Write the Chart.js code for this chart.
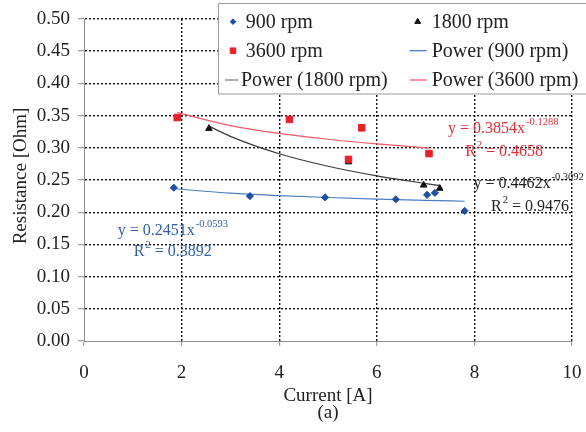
<!DOCTYPE html>
<html><head><meta charset="utf-8">
<script src="https://cdn.jsdelivr.net/npm/chart.js@4/dist/chart.umd.min.js"></script>
<style>html,body{margin:0;padding:0;background:#fff;}#wrap{position:relative;width:586px;height:432px;}</style>
</head><body><div id="wrap"><canvas id="c" width="586" height="432"></canvas></div>
<script>
// ---- data ----
const current900 = [1.84, 3.40, 4.94, 6.39, 7.03, 7.19, 7.80];
const resist900  = [0.238, 0.225, 0.223, 0.220, 0.227, 0.230, 0.202];
const current1800 = [2.56, 5.42, 6.96, 7.29];
const resist1800  = [0.330, 0.278, 0.242, 0.237];
const current3600 = [1.91, 4.21, 5.69, 5.42, 7.07];
const resist3600  = [0.347, 0.344, 0.331, 0.282, 0.291];
// power trend lines
const trendX900  = [1.84, 3, 4, 5, 6, 7, 7.8];
const trendY900  = [0.2364, 0.2296, 0.2258, 0.2228, 0.2204, 0.2184, 0.2170];
const trendX1800 = [2.56, 3, 4, 5, 6, 7, 7.29];
const trendY1800 = [0.3337, 0.3177, 0.2907, 0.2713, 0.2564, 0.2445, 0.2414];
const trendX3600 = [1.91, 3, 4, 5, 6, 7.07];
const trendY3600 = [0.3546, 0.3345, 0.3224, 0.3133, 0.3060, 0.2996];
const xTicks = [0, 2, 4, 6, 8, 10];
const yTicks = [0, 0.05, 0.10, 0.15, 0.20, 0.25, 0.30, 0.35, 0.40, 0.45, 0.50];
const seriesNames = ['900 rpm', '1800 rpm', '3600 rpm', 'Power (900 rpm)', 'Power (1800 rpm)', 'Power (3600 rpm)'];
const equations = [
  {x: 0.69, y: 0.171, color: '#2f5fa6', base: 'y = 0.2451x', sup: '-0.0593', tail: ''},
  {x: 1.02, y: 0.138, color: '#2f5fa6', base: 'R', sup: '2', tail: ' = 0.3892'},
  {x: 7.46, y: 0.330, color: '#e2303a', base: 'y = 0.3854x', sup: '-0.1288', tail: ''},
  {x: 7.81, y: 0.294, color: '#e2303a', base: 'R', sup: '2', tail: ' = 0.4658'},
  {x: 7.98, y: 0.2437, color: '#222', base: 'y = 0.4462x', sup: '-0.3092', tail: ''},
  {x: 8.34, y: 0.2084, color: '#222', base: 'R', sup: '2', tail: ' = 0.9476'}
];

const pts = (xs, ys) => xs.map((x, i) => ({x, y: ys[i]}));
const FONT = "'Liberation Serif', 'Times New Roman', serif";
const TXT = '#222';

const datasets = [
  {label: seriesNames[0], data: pts(current900, resist900), showLine: false, pointStyle: 'rectRot', pointRadius: 3.6, backgroundColor: '#1f4fa3', borderColor: '#1f4fa3', borderWidth: 1, order: 1},
  {label: seriesNames[1], data: pts(current1800, resist1800), showLine: false, pointStyle: 'triangle', pointRadius: 3.8, backgroundColor: '#111', borderColor: '#111', borderWidth: 1, order: 1},
  {label: seriesNames[2], data: pts(current3600, resist3600), showLine: false, pointStyle: 'rect', pointRadius: 4.6, backgroundColor: '#e8202a', borderColor: '#e8202a', borderWidth: 1, order: 0},
  {label: seriesNames[3], data: pts(trendX900, trendY900), showLine: true, pointRadius: 0, borderColor: '#4a7ec0', borderWidth: 1.2, cubicInterpolationMode: 'monotone', order: 2},
  {label: seriesNames[4], data: pts(trendX1800, trendY1800), showLine: true, pointRadius: 0, borderColor: '#3a3a3a', borderWidth: 1.2, cubicInterpolationMode: 'monotone', order: 2},
  {label: seriesNames[5], data: pts(trendX3600, trendY3600), showLine: true, pointRadius: 0, borderColor: '#ef5a66', borderWidth: 1.2, cubicInterpolationMode: 'monotone', order: 2}
];

const extras = {
  id: 'extras',
  afterDraw(chart) {
    const ctx = chart.ctx;
    const xs = chart.scales.x, ys = chart.scales.y;
    ctx.save();
    // y axis title
    ctx.translate(21, 176);
    ctx.rotate(-Math.PI / 2);
    ctx.font = '19px ' + FONT;
    ctx.fillStyle = TXT;
    ctx.textAlign = 'center';
    ctx.textBaseline = 'middle';
    ctx.fillText('Resistance [Ohm]', 0, 0);
    ctx.restore();

    // equations
    ctx.save();
    ctx.textAlign = 'left';
    ctx.textBaseline = 'middle';
    equations.forEach(e => {
      const px = xs.getPixelForValue(e.x), py = ys.getPixelForValue(e.y);
      ctx.fillStyle = e.color;
      ctx.font = '16px ' + FONT;
      ctx.fillText(e.base, px, py);
      const w = ctx.measureText(e.base).width;
      ctx.font = '10.5px ' + FONT;
      ctx.fillText(e.sup, px + w + 1, py - 6.5);
      const w2 = ctx.measureText(e.sup).width;
      if (e.tail) {
        ctx.font = '16px ' + FONT;
        ctx.fillText(e.tail, px + w + w2 + 1, py);
      }
    });
    ctx.restore();

    // legend
    ctx.save();
    ctx.fillStyle = '#fff';
    ctx.fillRect(218.5, 3.5, 370, 90.5);
    ctx.strokeStyle = '#9a9a9a';
    ctx.lineWidth = 1;
    ctx.beginPath();
    ctx.moveTo(600, 3.5); ctx.lineTo(218.5, 3.5); ctx.lineTo(218.5, 94); ctx.lineTo(600, 94);
    ctx.stroke();
    const rowsY = [21.7, 50.7, 80];
    // [dataset, row, marker/line start x, line end x, text x]
    const layout = [
      [0, 0, 233, 0, 245.7], [1, 0, 417.7, 0, 431.7],
      [2, 1, 233, 0, 245.7], [3, 1, 409.5, 426.7, 431.7],
      [4, 2, 225, 238, 241], [5, 2, 410, 426.7, 431.7]
    ];
    ctx.font = '20px ' + FONT;
    ctx.textBaseline = 'middle';
    ctx.textAlign = 'left';
    layout.forEach(([di, row, mx, lx2, tx]) => {
      const ds = chart.data.datasets[di];
      const y = rowsY[row];
      if (ds.showLine) {
        ctx.strokeStyle = di === 4 ? '#808080' : ds.borderColor;
        ctx.lineWidth = 1.3;
        ctx.beginPath();
        ctx.moveTo(mx, y); ctx.lineTo(lx2, y);
        ctx.stroke();
      } else {
        ctx.fillStyle = ds.backgroundColor;
        ctx.strokeStyle = ds.borderColor;
        ctx.lineWidth = 1;
        const r = ds.pointStyle === 'rectRot' ? 2.8 : (ds.pointStyle === 'rect' ? 3.9 : 3.4);
        Chart.helpers.drawPoint(ctx, {pointStyle: ds.pointStyle, radius: r, borderWidth: 1, rotation: 0}, mx, y);
      }
      ctx.fillStyle = TXT;
      ctx.fillText(ds.label, tx, y + 1);
    });
    ctx.restore();
  }
};

const gridColor = c => (c.tick && c.tick.value === 0) ? 'rgba(0,0,0,0)' : '#111';

new Chart(document.getElementById('c'), {
  type: 'scatter',
  data: {datasets},
  options: {
    responsive: false, animation: false, devicePixelRatio: 1,
    layout: {padding: {top: 19, right: 14, left: 0, bottom: 0}},
    plugins: {legend: {display: false}, tooltip: {enabled: false}},
    scales: {
      x: {
        type: 'linear', min: 0, max: 10,
        afterBuildTicks: s => { s.ticks = xTicks.map(v => ({value: v})); },
        afterFit: s => { s.height = 91; s.paddingLeft = 0; s.paddingRight = 0; },
        ticks: {font: {family: FONT, size: 19}, color: TXT, padding: 16, maxRotation: 0},
        grid: {color: gridColor, lineWidth: 1.4, tickColor: '#8c8c8c', tickLength: 5, tickWidth: 1},
        border: {display: true, color: '#8c8c8c', width: 1, dash: [2, 2]},
        title: {display: true, text: ['Current [A]', '(a)'], font: {family: FONT, size: 19, lineHeight: '17px'}, color: TXT, padding: {top: 0, bottom: 10.5}}
      },
      y: {
        min: 0, max: 0.5,
        afterBuildTicks: s => { s.ticks = yTicks.map(v => ({value: v})); },
        afterFit: s => { s.width = 84; s.paddingTop = 0; s.paddingBottom = 0; },
        ticks: {font: {family: FONT, size: 19}, color: TXT, padding: 8, callback: v => Number(v).toFixed(2)},
        grid: {color: gridColor, lineWidth: 1.4, tickColor: '#8c8c8c', tickLength: 6, tickWidth: 1},
        border: {display: true, color: '#8c8c8c', width: 1, dash: [2, 2]}
      }
    }
  },
  plugins: [extras]
});
</script></body></html>
